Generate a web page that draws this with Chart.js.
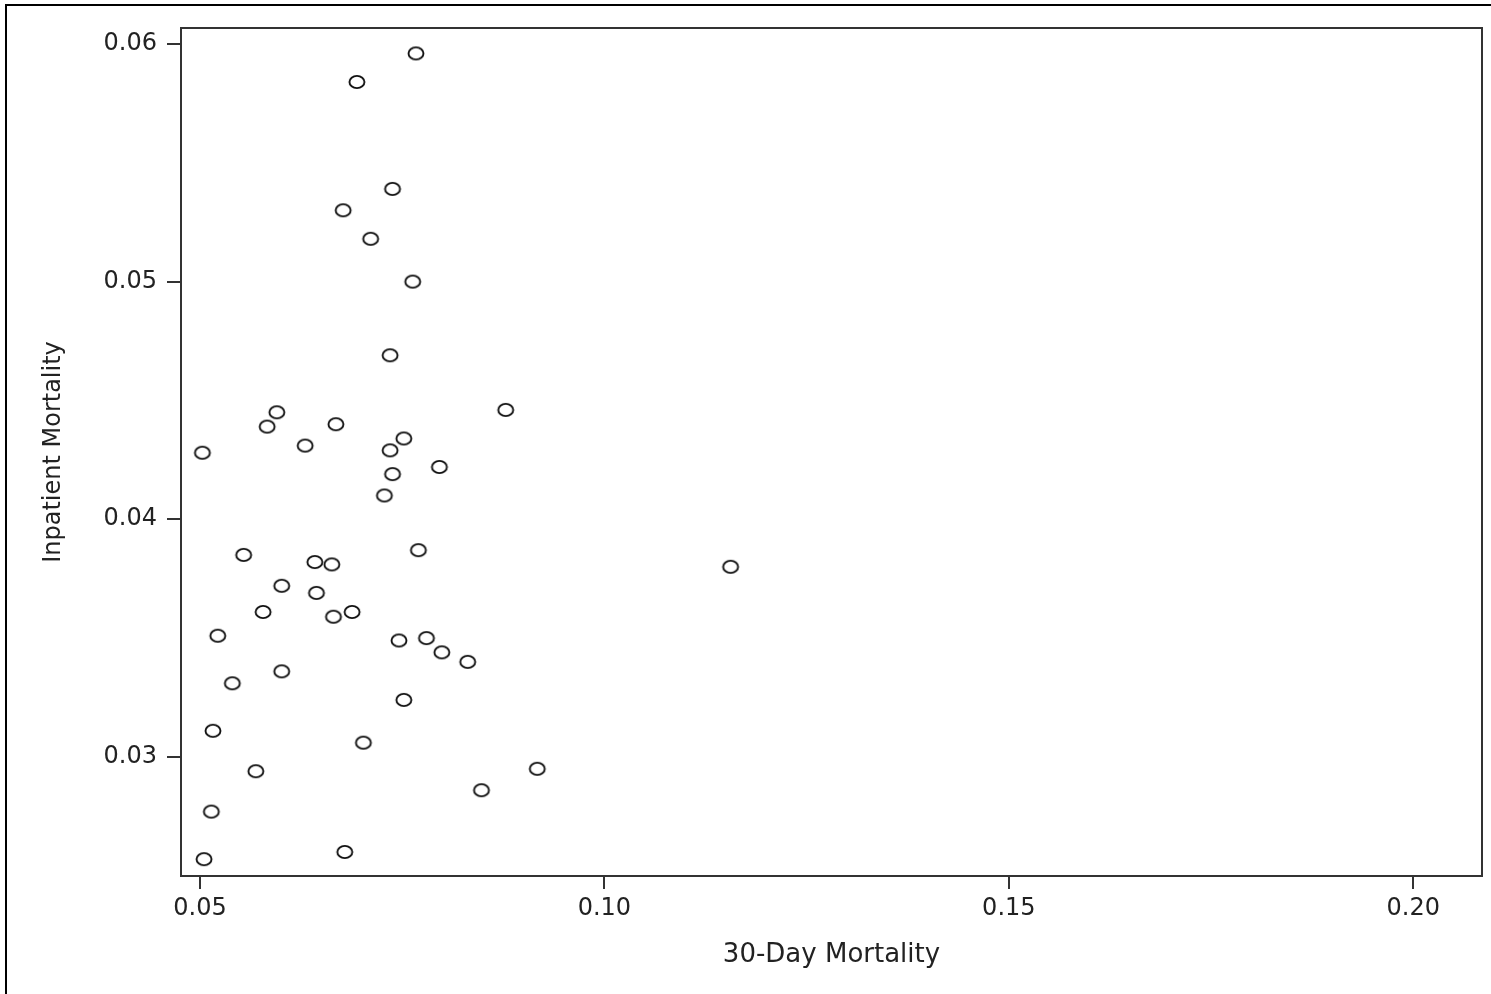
<!DOCTYPE html>
<html>
<head>
<meta charset="utf-8">
<script src="https://cdn.jsdelivr.net/npm/chart.js@4.4.1/dist/chart.umd.min.js"></script>
<style>
  html, body { margin: 0; padding: 0; background: #fff; }
  #wrap { position: relative; width: 1491px; height: 994px; overflow: hidden; }
  #frame { position: absolute; left: 5px; top: 4px; width: 1600px; height: 1200px; border: 2px solid #000; box-sizing: border-box; }
  canvas { position: absolute; left: 0; top: 0; }
</style>
</head>
<body>
<div id="wrap">
  <div id="frame"></div>
  <canvas id="c" width="1491" height="994"></canvas>
</div>
<script>
// 30-Day Mortality (x) and Inpatient Mortality (y) per hospital
const thirtyDayMortality = [
  0.0767, 0.0694, 0.0738, 0.0677, 0.0711, 0.0763, 0.0735, 0.0595, 0.0878, 0.0583,
  0.0668, 0.0503, 0.0630, 0.0752, 0.0735, 0.0796, 0.0738, 0.0728, 0.0770, 0.0554,
  0.0642, 0.0663, 0.1156, 0.0601, 0.0644, 0.0578, 0.0688, 0.0665, 0.0522, 0.0746,
  0.0780, 0.0799, 0.0831, 0.0601, 0.0540, 0.0752, 0.0516, 0.0702, 0.0569, 0.0917,
  0.0848, 0.0514, 0.0679, 0.0505
];
const inpatientMortality = [
  0.0596, 0.0584, 0.0539, 0.0530, 0.0518, 0.0500, 0.0469, 0.0445, 0.0446, 0.0439,
  0.0440, 0.0428, 0.0431, 0.0434, 0.0429, 0.0422, 0.0419, 0.0410, 0.0387, 0.0385,
  0.0382, 0.0381, 0.0380, 0.0372, 0.0369, 0.0361, 0.0361, 0.0359, 0.0351, 0.0349,
  0.0350, 0.0344, 0.0340, 0.0336, 0.0331, 0.0324, 0.0311, 0.0306, 0.0294, 0.0295,
  0.0286, 0.0277, 0.0260, 0.0257
];
const xTickValues = [0.05, 0.10, 0.15, 0.20];
const yTickValues = [0.03, 0.04, 0.05, 0.06];
const xAxisTitle = '30-Day Mortality';
const yAxisTitle = 'Inpatient Mortality';

const points = thirtyDayMortality.map((x, i) => ({ x: x, y: inpatientMortality[i] }));

// open elliptical marker
const marker = document.createElement('canvas');
marker.width = 20; marker.height = 16;
(function () {
  const m = marker.getContext('2d');
  m.lineWidth = 1.9;
  m.strokeStyle = '#111';
  m.beginPath();
  m.ellipse(10, 8, 7.5, 6.1, 0, 0, Math.PI * 2);
  m.stroke();
})();

const frameBox = {
  id: 'frameBox',
  afterDraw(chart) {
    const a = chart.chartArea, ctx = chart.ctx;
    ctx.save();
    ctx.strokeStyle = '#333';
    ctx.lineWidth = 2;
    ctx.strokeRect(a.left, a.top, a.right - a.left, a.bottom - a.top);
    ctx.restore();
  }
};

const tickFont = { family: 'DejaVu Sans', size: 24 };

new Chart(document.getElementById('c'), {
  type: 'scatter',
  data: {
    datasets: [{
      data: points,
      pointStyle: marker,
      pointRadius: 8,
      pointHoverRadius: 8
    }]
  },
  options: {
    responsive: false,
    animation: false,
    devicePixelRatio: 1,
    layout: { padding: { top: 28, right: 8, left: 0, bottom: 0 } },
    plugins: { legend: { display: false }, tooltip: { enabled: false } },
    scales: {
      x: {
        type: 'linear',
        min: 0.04765,
        max: 0.2085,
        afterBuildTicks: s => { s.ticks = xTickValues.map(v => ({ value: v })); },
        afterFit: s => { s.height = 118; },
        border: { display: false },
        grid: { drawOnChartArea: false, drawTicks: true, tickLength: 13, color: '#333', lineWidth: 2 },
        ticks: { font: tickFont, color: '#222', padding: 5, maxRotation: 0, callback: v => v.toFixed(2) },
        title: { display: true, text: xAxisTitle, font: { family: 'DejaVu Sans', size: 26 }, color: '#222', padding: { top: 0, bottom: 23 } }
      },
      y: {
        type: 'linear',
        min: 0.02499,
        max: 0.06067,
        afterBuildTicks: s => { s.ticks = yTickValues.map(v => ({ value: v })); },
        afterFit: s => { s.width = 181; },
        border: { display: false },
        grid: { drawOnChartArea: false, drawTicks: true, tickLength: 14, color: '#333', lineWidth: 2 },
        ticks: { font: tickFont, color: '#222', padding: 10, callback: v => v.toFixed(2) },
        title: { display: true, text: yAxisTitle, font: { family: 'DejaVu Sans', size: 24 }, color: '#222', padding: { top: 39, bottom: 0 } }
      }
    }
  },
  plugins: [frameBox]
});
</script>
</body>
</html>
